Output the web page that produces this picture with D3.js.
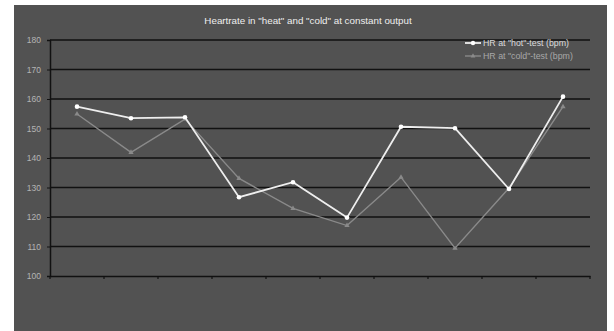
<!DOCTYPE html>
<html><head><meta charset="utf-8">
<script src="https://cdn.jsdelivr.net/npm/d3@7"></script>
<style>html,body{margin:0;padding:0;background:#fff;}svg{display:block;}</style>
</head><body>
<svg id="c" width="614" height="331"></svg>
<script>
const categories = ["1","2","3","4","5","6","7","8","9","10"];
const hotValues  = [157.4, 153.5, 153.8, 126.7, 131.8, 119.8, 150.6, 150.1, 129.5, 160.8];
const coldValues = [154.9, 141.9, 153.2, 133.1, 122.9, 117.1, 133.5, 109.4, 129.8, 157.4];
const yTicks = [100, 110, 120, 130, 140, 150, 160, 170, 180];
const titleText = 'Heartrate in "heat" and "cold" at constant output';
const legendLabels = ['HR at "hot"-test (bpm)', 'HR at "cold"-test (bpm)'];

const svg = d3.select("#c");
svg.append("rect").attr("x",14).attr("y",5).attr("width",593).attr("height",326).attr("fill","#525252");

const x = d3.scaleBand().domain(categories).range([50, 590]);
const y = d3.scaleLinear().domain([100, 180]).range([276, 40]);

// gridlines
svg.append("g").selectAll("line").data(yTicks.filter(d=>d>100)).join("line")
  .attr("x1",50).attr("x2",590).attr("y1",d=>y(d)).attr("y2",d=>y(d))
  .attr("stroke","#111").attr("stroke-width",1.5);

// y axis
const ya = svg.append("g").attr("transform","translate(50,0)")
  .call(d3.axisLeft(y).tickValues(yTicks).tickSize(3).tickPadding(6));
ya.select(".domain").attr("stroke","#111").attr("stroke-width",1.5);
ya.selectAll(".tick line").attr("stroke","#111");
ya.selectAll("text").attr("fill","#b4b4b4").attr("font-family","Liberation Sans, Arial, sans-serif").attr("font-size",8.5);

// x axis
const xa = svg.append("g").attr("transform",`translate(0,${y(100)})`)
  .call(d3.axisBottom(x).tickSize(0).tickFormat(""));
xa.select(".domain").attr("stroke","#111").attr("stroke-width",1.5);
const edges = categories.map(c=>x(c)).concat([x(categories[categories.length-1])+x.bandwidth()]);
svg.append("g").selectAll("line").data(edges).join("line")
  .attr("x1",d=>d).attr("x2",d=>d).attr("y1",y(100)).attr("y2",y(100)+3)
  .attr("stroke","#111").attr("stroke-width",1.2);

const cx = c => x(c) + x.bandwidth()/2;
const line = d3.line().x((d,i)=>cx(categories[i])).y(d=>y(d));

// cold series
svg.append("path").datum(coldValues).attr("d",line).attr("fill","none")
  .attr("stroke","#8a8a8a").attr("stroke-width",1.4);
svg.append("g").selectAll("path").data(coldValues).join("path")
  .attr("d", d3.symbol(d3.symbolTriangle, 12)())
  .attr("transform",(d,i)=>`translate(${cx(categories[i])},${y(d)})`)
  .attr("fill","#8a8a8a");

// hot series
svg.append("path").datum(hotValues).attr("d",line).attr("fill","none")
  .attr("stroke","#eeeeee").attr("stroke-width",1.8);
svg.append("g").selectAll("circle").data(hotValues).join("circle")
  .attr("cx",(d,i)=>cx(categories[i])).attr("cy",d=>y(d)).attr("r",2.3)
  .attr("fill","#ffffff");

// title
svg.append("text").attr("x",308).attr("y",24).attr("text-anchor","middle")
  .attr("fill","#eeeeee").attr("font-family","Liberation Sans, Arial, sans-serif")
  .attr("font-size",9.8).text(titleText);

// legend
const lg = svg.append("g");
const legY = [43, 56];
lg.append("line").attr("x1",465).attr("x2",481).attr("y1",legY[0]).attr("y2",legY[0]).attr("stroke","#eeeeee").attr("stroke-width",1.8);
lg.append("circle").attr("cx",473).attr("cy",legY[0]).attr("r",2.2).attr("fill","#fff");
lg.append("line").attr("x1",465).attr("x2",481).attr("y1",legY[1]).attr("y2",legY[1]).attr("stroke","#8a8a8a").attr("stroke-width",1.4);
lg.append("path").attr("d", d3.symbol(d3.symbolTriangle, 10)()).attr("transform",`translate(473,${legY[1]})`).attr("fill","#8a8a8a");
lg.selectAll("text").data(legendLabels).join("text")
  .attr("x",483).attr("y",(d,i)=>legY[i]+3)
  .attr("fill",(d,i)=> i===0 ? "#dcdcdc" : "#a8a8a8")
  .attr("font-family","Liberation Sans, Arial, sans-serif").attr("font-size",8.8).text(d=>d);
</script>
</body></html>
